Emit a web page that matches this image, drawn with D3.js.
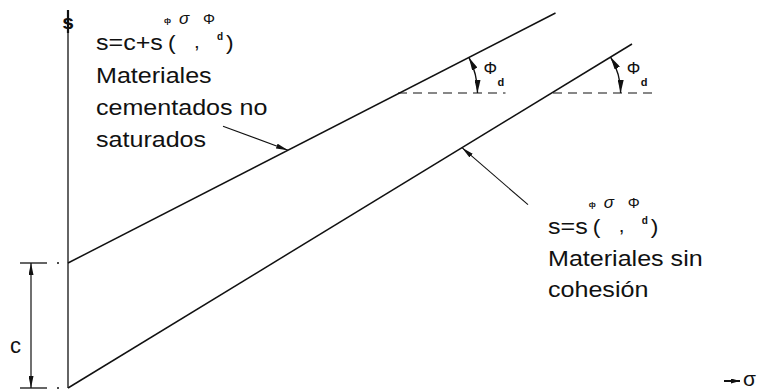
<!DOCTYPE html>
<html>
<head>
<meta charset="utf-8">
<script src="https://cdn.jsdelivr.net/npm/d3@7"></script>
<style>
  html, body { margin: 0; padding: 0; background: #fff; }
  svg { display: block; }
  text { font-family: "Liberation Sans", Arial, Helvetica, sans-serif; fill: #111; }
</style>
</head>
<body>
<svg id="chart" width="771" height="390"></svg>
<script>
// Shear strength envelopes, in (σ, s) units
const cementedLine = [[0, 5], [19.5, 15]];          // s = c + σ·tan φd
const cohesionlessLine = [[0, 0], [22.56, 13.76]];  // s = σ·tan φd
const cohesion = 5;                                   // intercept c
const refLevel = 11.8;                                // horizontal reference for the φd angle
const refSpans = [[13.2, 17.5], [19.4, 23.6]];        // dashed reference segments (σ from, σ to)
const leaderTips = [8.8, 15.76];                      // σ where each label arrow meets its line

// Label texts
const upperLabel = ["Materiales", "cementados no", "saturados"];
const lowerLabel = ["Materiales sin", "cohesión"];
const axisLabels = { y: "s", x: "σ", c: "c" };

const svg = d3.select("#chart");
const x = d3.scaleLinear().domain([0, 28]).range([68, 768]);
const y = d3.scaleLinear().domain([0, 15.12]).range([388, 10]);

const ink = "#111";
const defs = svg.append("defs");
function headMarker(id, len, wid) {
  defs.append("marker")
    .attr("id", id)
    .attr("viewBox", `0 0 ${len} ${wid}`)
    .attr("refX", len).attr("refY", wid / 2)
    .attr("markerWidth", len).attr("markerHeight", wid)
    .attr("markerUnits", "userSpaceOnUse")
    .attr("orient", "auto-start-reverse")
    .append("path")
    .attr("d", `M0,0 L${len},${wid / 2} L0,${wid} Z`)
    .attr("fill", ink);
}
headMarker("head", 12, 5);
headMarker("headArc", 13, 6);
headMarker("headSmall", 9, 5);

const line = d3.line().x(d => x(d[0])).y(d => y(d[1]));

// vertical s axis
svg.append("line")
  .attr("x1", x(0)).attr("y1", y(0))
  .attr("x2", x(0)).attr("y2", 16)
  .attr("stroke", ink).attr("stroke-width", 1.3);
svg.append("text")
  .attr("x", x(0)).attr("y", 29)
  .attr("text-anchor", "middle")
  .attr("font-size", 21).attr("font-weight", "bold")
  .text(axisLabels.y);
svg.append("line")
  .attr("x1", x(0)).attr("y1", 10).attr("x2", x(0)).attr("y2", 33)
  .attr("stroke", ink).attr("stroke-width", 2.2);

// σ axis tip
svg.append("line")
  .attr("x1", 724).attr("y1", 381).attr("x2", 740).attr("y2", 381)
  .attr("stroke", ink).attr("stroke-width", 2)
  .attr("marker-end", "url(#headSmall)");
svg.append("text")
  .attr("x", 743).attr("y", 386)
  .attr("font-size", 21)
  .attr("font-family", "'DejaVu Sans', sans-serif")
  .attr("font-weight", 200)
  .text(axisLabels.x);

// envelopes
[cementedLine, cohesionlessLine].forEach(pts => {
  svg.append("path")
    .attr("d", line(pts))
    .attr("fill", "none").attr("stroke", ink).attr("stroke-width", 1.5);
});

// dashed horizontal references
refSpans.forEach(([a, b]) => {
  svg.append("line")
    .attr("x1", x(a)).attr("y1", y(refLevel))
    .attr("x2", x(b)).attr("y2", y(refLevel))
    .attr("stroke", ink).attr("stroke-width", 1.2)
    .attr("stroke-dasharray", "9,6");
});

// angle φd arcs between each envelope and its reference line
const arcRadius = [78, 69];
[cementedLine, cohesionlessLine].forEach((pts, i) => {
  const [p0, p1] = pts;
  const slope = (p1[1] - p0[1]) / (p1[0] - p0[0]);
  const sx = p0[0] + (refLevel - p0[1]) / slope;
  const cx = x(sx), cy = y(refLevel);
  const ang = Math.atan2(y(p1[1]) - y(p0[1]), x(p1[0]) - x(p0[0]));
  const r = arcRadius[i];
  const ax = cx + r * Math.cos(ang), ay = cy + r * Math.sin(ang);
  const bx = cx + r, by = cy;
  svg.append("path")
    .attr("d", `M${ax},${ay} A${r},${r} 0 0 1 ${bx},${by}`)
    .attr("fill", "none").attr("stroke", ink).attr("stroke-width", 1.4)
    .attr("marker-start", "url(#headArc)").attr("marker-end", "url(#headArc)");
  svg.append("text")
    .attr("x", bx + 6).attr("y", cy - 19)
    .attr("font-size", 17)
    .attr("font-family", "'DejaVu Sans', sans-serif")
    .attr("font-weight", 200)
    .text("Φ");
  svg.append("text")
    .attr("x", bx + 20).attr("y", cy - 7)
    .attr("font-size", 11).attr("font-weight", "bold")
    .text("d");
});

// leader arrows to each envelope
const leaderOffsets = [[-65, -24], [66, 57]];
[cementedLine, cohesionlessLine].forEach((pts, i) => {
  const [p0, p1] = pts;
  const s = p0[1] + (p1[1] - p0[1]) * (leaderTips[i] - p0[0]) / (p1[0] - p0[0]);
  const tx = x(leaderTips[i]), ty = y(s);
  svg.append("line")
    .attr("x1", tx + leaderOffsets[i][0]).attr("y1", ty + leaderOffsets[i][1])
    .attr("x2", tx).attr("y2", ty)
    .attr("stroke", ink).attr("stroke-width", 1.1)
    .attr("marker-end", "url(#head)");
});

// cohesion dimension
const dimX = 31;
[0, cohesion].forEach(v => {
  svg.append("line")
    .attr("x1", 20).attr("y1", y(v)).attr("x2", 47).attr("y2", y(v))
    .attr("stroke", ink).attr("stroke-width", 1.3);
  svg.append("circle")
    .attr("cx", 58).attr("cy", y(v)).attr("r", 1).attr("fill", ink);
});
svg.append("line")
  .attr("x1", dimX).attr("y1", y(cohesion)).attr("x2", dimX).attr("y2", y(0))
  .attr("stroke", ink).attr("stroke-width", 1.2)
  .attr("marker-start", "url(#head)").attr("marker-end", "url(#head)");
svg.append("text")
  .attr("x", 10).attr("y", 353)
  .attr("font-size", 22)
  .text(axisLabels.c);

// stretched label text
function label(str, tx, ty, size) {
  return svg.append("text")
    .attr("transform", `translate(${tx},${ty}) scale(1.14,1)`)
    .attr("font-size", size)
    .text(str);
}
// s = c + s(φ, σ, φd) style formula with raised symbols
function formula(x0, base, head) {
  const w = label(head, x0, base, 22).node().getComputedTextLength() * 1.14;
  const px = x0 + w + 5;
  label("(", px, base, 20);
  label(",", px + 26, base - 2, 18);
  label(")", px + 58, base, 20);
  svg.append("text").attr("x", px + 49).attr("y", base - 10)
    .attr("font-size", 10).attr("font-weight", "bold").text("d");
  svg.append("text").attr("x", px - 4).attr("y", base - 27)
    .attr("font-size", 8).attr("font-weight", "bold").text("ф");
  svg.append("text").attr("x", px + 11).attr("y", base - 26)
    .attr("font-size", 17).attr("font-style", "italic")
    .attr("font-family", "'DejaVu Sans', sans-serif").attr("font-weight", 200)
    .text("σ");
  svg.append("text").attr("x", px + 35).attr("y", base - 26)
    .attr("font-size", 15)
    .attr("font-family", "'DejaVu Sans', sans-serif").attr("font-weight", 200)
    .text("Φ");
}

formula(96, 50, "s=c+s");
upperLabel.forEach((t, i) => label(t, 96, 83 + i * 32, 22));

formula(548, 234, "s=s");
lowerLabel.forEach((t, i) => label(t, 548, 266 + i * 31, 22));
</script>
</body>
</html>
